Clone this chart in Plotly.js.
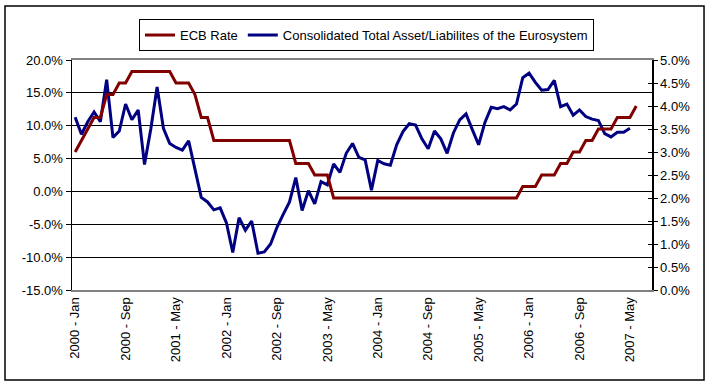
<!DOCTYPE html>
<html>
<head>
<meta charset="utf-8">
<script src="https://cdn.plot.ly/plotly-3.0.1.min.js"></script>
<style>
html,body{margin:0;padding:0;background:#fff;}
#chart{width:712px;height:385px;}
</style>
</head>
<body>
<div id="chart"></div>
<script>
// Month categories (2000 - Jan ... 2007 - Aug)
var years = [2000, 2001, 2002, 2003, 2004, 2005, 2006, 2007];
var monthNames = ["Jan","Feb","Mar","Apr","May","Jun","Jul","Aug","Sep","Oct","Nov","Dec"];
var lastYearMonths = 8;
var categories = [];
years.forEach(function(y, yi){
  var n = (yi === years.length - 1) ? lastYearMonths : 12;
  for (var m = 0; m < n; m++) categories.push(y + " - " + monthNames[m]);
});

// ECB rate (%), right axis
var ecbRate = [
  3.00, 3.25, 3.50, 3.75, 3.75, 4.25, 4.25, 4.50, 4.50, 4.75, 4.75, 4.75,
  4.75, 4.75, 4.75, 4.75, 4.50, 4.50, 4.50, 4.25, 3.75, 3.75, 3.25, 3.25,
  3.25, 3.25, 3.25, 3.25, 3.25, 3.25, 3.25, 3.25, 3.25, 3.25, 3.25, 2.75,
  2.75, 2.75, 2.50, 2.50, 2.50, 2.00, 2.00, 2.00, 2.00, 2.00, 2.00, 2.00,
  2.00, 2.00, 2.00, 2.00, 2.00, 2.00, 2.00, 2.00, 2.00, 2.00, 2.00, 2.00,
  2.00, 2.00, 2.00, 2.00, 2.00, 2.00, 2.00, 2.00, 2.00, 2.00, 2.00, 2.25,
  2.25, 2.25, 2.50, 2.50, 2.50, 2.75, 2.75, 3.00, 3.00, 3.25, 3.25, 3.50,
  3.50, 3.50, 3.75, 3.75, 3.75, 4.00
];

// Consolidated total asset/liabilities of the Eurosystem, y/y growth (%), left axis
var eurosystemAssets = [
  11.3, 8.7, 10.6, 12.1, 10.6, 17.0, 8.2, 9.2, 13.3, 10.9, 12.4, 4.1,
  9.5, 15.9, 9.6, 7.3, 6.7, 6.3, 7.7, 3.5, -0.9, -1.6, -2.8, -2.5,
  -4.8, -9.3, -4.0, -5.9, -4.5, -9.4, -9.2, -8.0, -5.5, -3.5, -1.6, 2.1,
  -2.9, 0.1, -1.9, 1.5, 1.0, 4.2, 2.9, 5.8, 7.3, 5.2, 4.8, 0.2,
  4.7, 4.2, 4.0, 7.1, 9.1, 10.3, 10.1, 8.0, 6.5, 9.2, 8.0, 5.8,
  8.9, 10.9, 11.8, 9.4, 7.1, 10.5, 12.8, 12.6, 12.9, 12.4, 13.3, 17.3,
  18.0, 16.6, 15.4, 15.5, 16.9, 12.9, 13.3, 11.6, 12.4, 11.4, 11.0, 10.8,
  8.8, 8.3, 9.0, 9.0, 9.6
];

var tickLabels = categories.filter(function(c, i){ return i % 8 === 0; });
var leftTicks = [-15, -10, -5, 0, 5, 10, 15, 20];
var rightTicks = [0, 0.5, 1, 1.5, 2, 2.5, 3, 3.5, 4, 4.5, 5];

var FONT = "Liberation Sans, Arial, sans-serif";

var traces = [
  {
    x: categories.slice(0, ecbRate.length),
    y: ecbRate,
    name: "ECB Rate",
    type: "scatter",
    mode: "lines",
    yaxis: "y2",
    line: {color: "#800000", width: 3}
  },
  {
    x: categories.slice(0, eurosystemAssets.length),
    y: eurosystemAssets,
    name: "Consolidated Total Asset/Liabilites of the Eurosystem",
    type: "scatter",
    mode: "lines",
    yaxis: "y",
    line: {color: "#000080", width: 3}
  },
  {
    x: [categories[0]],
    y: [null],
    yaxis: "y3",
    showlegend: false,
    hoverinfo: "skip",
    mode: "lines"
  }
];

var layout = {
  width: 712,
  height: 385,
  margin: {l: 72, r: 60, t: 60, b: 95, pad: 0},
  paper_bgcolor: "#ffffff",
  plot_bgcolor: "#ffffff",
  font: {family: FONT, size: 13, color: "#000"},
  showlegend: true,
  legend: {
    orientation: "h",
    x: 0.1155, xanchor: "left",
    y: 1.178, yanchor: "top",
    bordercolor: "#000",
    borderwidth: 1,
    bgcolor: "#fff",
    font: {family: FONT, size: 13, color: "#000"},
    traceorder: "normal"
  },
  xaxis: {
    type: "category",
    categoryorder: "array",
    categoryarray: categories,
    range: [-0.5, categories.length - 0.5],
    tickmode: "array",
    tickvals: tickLabels,
    ticktext: tickLabels,
    tickangle: -90,
    ticks: "",
    showgrid: false,
    zeroline: false,
    showline: true,
    linecolor: "#808080",
    linewidth: 2,
    mirror: true,
    tickfont: {family: FONT, size: 13, color: "#000"}
  },
  yaxis: {
    range: [-15, 20],
    tickmode: "array",
    tickvals: leftTicks,
    ticktext: leftTicks.map(function(v){ return v.toFixed(1) + "%"; }),
    ticks: "outside",
    ticklen: 5,
    tickcolor: "#000",
    showgrid: true,
    gridcolor: "#000",
    gridwidth: 1,
    zeroline: false,
    showline: true,
    linecolor: "#000",
    linewidth: 1.5,
    tickfont: {family: FONT, size: 13, color: "#000"}
  },
  yaxis2: {
    range: [0, 5],
    overlaying: "y",
    side: "right",
    tickmode: "array",
    tickvals: rightTicks,
    ticktext: rightTicks.map(function(v){ return v.toFixed(1) + "%"; }),
    ticks: "outside",
    ticklen: 4,
    tickcolor: "#000",
    showgrid: false,
    zeroline: false,
    showline: true,
    linecolor: "#000",
    linewidth: 1.5,
    tickfont: {family: FONT, size: 13, color: "#000"}
  },
  yaxis3: {
    range: [0, 5],
    overlaying: "y",
    side: "right",
    tickmode: "array",
    tickvals: rightTicks,
    ticks: "inside",
    ticklen: 4,
    tickcolor: "#000",
    showticklabels: false,
    showgrid: false,
    zeroline: false,
    showline: false
  },
  shapes: [
    {
      type: "rect",
      xref: "paper", yref: "paper",
      x0: -0.1155, x1: 1.0897,
      y0: -0.391, y1: 1.2348,
      line: {color: "#000", width: 1.5},
      fillcolor: "rgba(0,0,0,0)",
      layer: "below"
    }
  ]
};

Plotly.newPlot("chart", traces, layout, {displayModeBar: false, staticPlot: true});
</script>
</body>
</html>
